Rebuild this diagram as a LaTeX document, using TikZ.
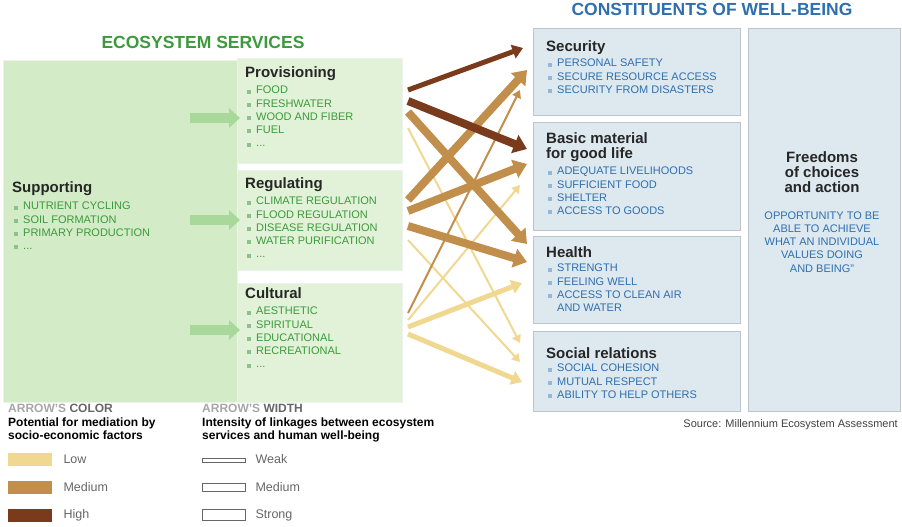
\documentclass[tikz,border=0pt]{standalone}
\usepackage{fontspec}
\setmainfont{Liberation Sans}
\usetikzlibrary{arrows.meta}
\definecolor{gfill}{HTML}{D3EBC6}
\definecolor{gfill2}{HTML}{E2F2D8}
\definecolor{gtext}{HTML}{3C9A3C}
\definecolor{bfill}{HTML}{DDE8EF}
\definecolor{btext}{HTML}{2F6FAE}
\definecolor{alow}{HTML}{F0D890}
\definecolor{amed}{HTML}{C28E4C}
\definecolor{ahigh}{HTML}{7A3A1C}
\definecolor{garrow}{HTML}{A8D89A}
\newcommand{\gb}{\textcolor{gtext!60}{\rule{4pt}{4pt}}\hspace{5pt}}
\newcommand{\bb}{\textcolor{btext!50}{\rule{4pt}{4pt}}\hspace{5pt}}
\begin{document}
\begin{tikzpicture}[x=1pt,y=-1pt,
 gpanel/.style={fill=gfill,draw=gfill!80!black!20,line width=0.6pt},
 bpanel/.style={fill=bfill,draw=bfill!85!black,line width=0.6pt},
 ghead/.style={anchor=north west,font=\bfseries\fontsize{15}{16}\selectfont,text=black!85,inner sep=0pt},
 glist/.style={anchor=north west,font=\fontsize{11}{13.2}\selectfont,text=gtext,align=left,inner sep=0pt},
 blist/.style={anchor=north west,font=\fontsize{11}{13.2}\selectfont,text=btext,align=left,inner sep=0pt},
 conn/.style={-{Triangle[width=#1*1.6+6pt,length=#1*0.9+6pt]}, line width=#1},
 fat/.style={garrow,line width=10pt,-{Triangle[width=19pt,length=11pt]}},
 leg/.style={anchor=west,font=\fontsize{12.5}{14}\selectfont,text=black!60}]
\useasboundingbox (0,0) rectangle (902,527);
% green panels
\node[gpanel,minimum width=234pt,minimum height=342pt,anchor=north west,inner sep=0] (sup) at (3,60) {};
\node[gpanel,fill=gfill2,minimum width=165pt,minimum height=105pt,anchor=north west,inner sep=0] (prov) at (237,58) {};
\node[gpanel,fill=gfill2,minimum width=165pt,minimum height=100pt,anchor=north west,inner sep=0] (reg) at (237,170) {};
\node[gpanel,fill=gfill2,minimum width=165pt,minimum height=119pt,anchor=north west,inner sep=0] (cul) at (237,283) {};
\node[font=\bfseries\fontsize{17.5}{18}\selectfont,text=gtext] (es) at (203,42) {ECOSYSTEM SERVICES};
\node[ghead] (supt) at (12,181) {Supporting};
\node[glist] (supl) at (14,202) {\gb NUTRIENT CYCLING\\\gb SOIL FORMATION\\\gb PRIMARY PRODUCTION\\\gb ...};
\node[ghead] (provt) at (245,66) {Provisioning};
\node[glist] (provl) at (247,86) {\gb FOOD\\\gb FRESHWATER\\\gb WOOD AND FIBER\\\gb FUEL\\\gb ...};
\node[ghead] (regt) at (245,177) {Regulating};
\node[glist] (regl) at (247,197) {\gb CLIMATE REGULATION\\\gb FLOOD REGULATION\\\gb DISEASE REGULATION\\\gb WATER PURIFICATION\\\gb ...};
\node[ghead] (cult) at (245,287) {Cultural};
\node[glist] (cull) at (247,307) {\gb AESTHETIC\\\gb SPIRITUAL\\\gb EDUCATIONAL\\\gb RECREATIONAL\\\gb ...};
\coordinate (f1a) at (190,118); \coordinate (f1b) at (240,118);
\coordinate (f2a) at (190,220); \coordinate (f2b) at (240,220);
\coordinate (f3a) at (190,330); \coordinate (f3b) at (240,330);
\draw[fat] (f1a) -- (f1b); \draw[fat] (f2a) -- (f2b); \draw[fat] (f3a) -- (f3b);
% blue panels
\node[bpanel,minimum width=207pt,minimum height=87pt,anchor=north west,inner sep=0] (sec) at (533,28) {};
\node[bpanel,minimum width=207pt,minimum height=108pt,anchor=north west,inner sep=0] (bas) at (533,122) {};
\node[bpanel,minimum width=207pt,minimum height=87pt,anchor=north west,inner sep=0] (hea) at (533,236) {};
\node[bpanel,minimum width=207pt,minimum height=80pt,anchor=north west,inner sep=0] (soc) at (533,331) {};
\node[bpanel,minimum width=152pt,minimum height=383pt,anchor=north west,inner sep=0] (fre) at (748,28) {};
\node[font=\bfseries\fontsize{17.5}{18}\selectfont,text=btext] (cw) at (712,9) {CONSTITUENTS OF WELL-BEING};
\node[ghead] (sect) at (546,40) {Security};
\node[blist] (secl) at (548,59) {\bb PERSONAL SAFETY\\\bb SECURE RESOURCE ACCESS\\\bb SECURITY FROM DISASTERS};
\node[ghead,align=left,font=\bfseries\fontsize{15}{15}\selectfont] (bast) at (546,132) {Basic material\\for good life};
\node[blist] (basl) at (548,167) {\bb ADEQUATE LIVELIHOODS\\\bb SUFFICIENT FOOD\\\bb SHELTER\\\bb ACCESS TO GOODS};
\node[ghead] (heat) at (546,246) {Health};
\node[blist] (heal) at (548,264) {\bb STRENGTH\\\bb FEELING WELL\\\bb ACCESS TO CLEAN AIR\\\hspace{9pt}AND WATER};
\node[ghead] (soct) at (546,347) {Social relations};
\node[blist] (socl) at (548,364) {\bb SOCIAL COHESION\\\bb MUTUAL RESPECT\\\bb ABILITY TO HELP OTHERS};
\node[font=\bfseries\fontsize{15}{15}\selectfont,align=center,text=black!85] (fret) at (822,172) {Freedoms\\of choices\\and action};
\node[font=\fontsize{11}{13.2}\selectfont,align=center,text=btext] (frel) at (822,242) {OPPORTUNITY TO BE\\ABLE TO ACHIEVE\\WHAT AN INDIVIDUAL\\VALUES DOING\\AND BEING"};
\node[font=\fontsize{11}{12}\selectfont,text=black!75,anchor=east,inner sep=0] (src) at (898,425) {Source: Millennium Ecosystem Assessment};
% connector coordinates
\foreach \n/\y in {p1/90,p2/101,p3/112,p4/128,r1/200,r2/211,r3/226,r4/240,c1/313,c2/320,c3/327,c4/334}{\coordinate (\n) at (408,\y);}
\foreach \n/\x/\y in {s1/523/48,s2/527/70,s3/520/90,b1/527/149,b2/527/164,b3/520/185,h1/527/244,h2/527/262,h3/522/283,o1/520/343,o2/520/362,o3/522/382}{\coordinate (\n) at (\x,\y);}
\draw[conn=2,alow] (p4) -- (o1);
\draw[conn=2,alow] (r4) -- (o2);
\draw[conn=2,alow] (c2) -- (b3);
\draw[conn=2,amed] (c1) -- (s3);
\draw[conn=5,alow] (c3) -- (h3);
\draw[conn=5,alow] (c4) -- (o3);
\draw[conn=8,amed] (p3) -- (h1);
\draw[conn=8,amed] (r1) -- (s2);
\draw[conn=8,amed] (r2) -- (b2);
\draw[conn=8,amed] (r3) -- (h2);
\draw[conn=5,ahigh] (p1) -- (s1);
\draw[conn=8,ahigh] (p2) -- (b1);
% legend
\node[anchor=north west,inner sep=0,font=\bfseries\fontsize{12}{13.5}\selectfont,align=left] (lc) at (8,404) {\textcolor{black!35}{ARROW'S} \textcolor{black!60}{COLOR}\\Potential for mediation by\\socio-economic factors};
\node[anchor=north west,inner sep=0,font=\bfseries\fontsize{12}{13.5}\selectfont,align=left] (lw) at (202,404) {\textcolor{black!35}{ARROW'S} \textcolor{black!60}{WIDTH}\\Intensity of linkages between ecosystem\\services and human well-being};
\node[fill=alow,minimum width=44pt,minimum height=13pt,inner sep=0] (sw1) at (30,459) {};
\node[fill=amed,minimum width=44pt,minimum height=13pt,inner sep=0] (sw2) at (30,487) {};
\node[fill=ahigh,minimum width=44pt,minimum height=13pt,inner sep=0] (sw3) at (30,515) {};
\node[leg] at (60,459) {Low}; \node[leg] at (60,487) {Medium}; \node[leg] at (60,515) {High};
\node[draw=black!60,minimum width=43pt,minimum height=4pt,inner sep=0] (ww1) at (224,460) {};
\node[draw=black!60,minimum width=43pt,minimum height=8pt,inner sep=0] (ww2) at (224,487) {};
\node[draw=black!60,minimum width=43pt,minimum height=11pt,inner sep=0] (ww3) at (224,515) {};
\node[leg] at (252,459) {Weak}; \node[leg] at (252,487) {Medium}; \node[leg] at (252,515) {Strong};
\end{tikzpicture}
\end{document}
